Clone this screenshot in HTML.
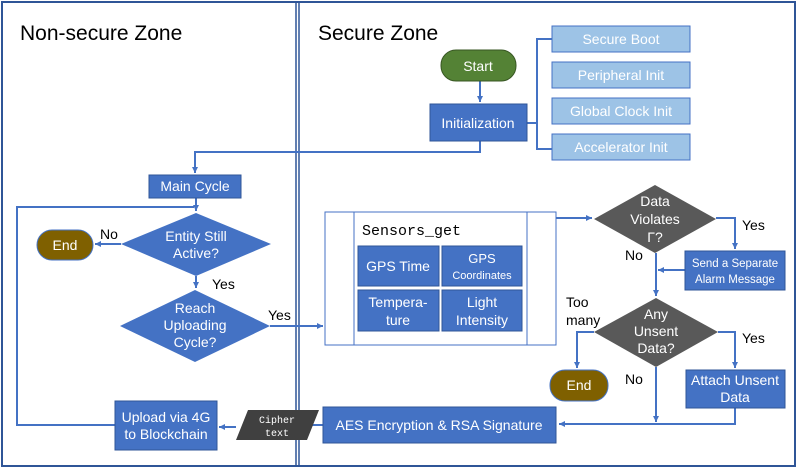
<!DOCTYPE html>
<html><head><meta charset="utf-8"><style>
body{margin:0;background:#fff}
svg{display:block}
text{font-family:"Liberation Sans",sans-serif}
.w{fill:#fff;font-size:14px;text-anchor:middle}
.k{fill:#000;font-size:14px}
</style></head><body>
<svg width="797" height="468" viewBox="0 0 797 468" xmlns="http://www.w3.org/2000/svg">
<defs><marker id="a" markerWidth="8" markerHeight="8" refX="6" refY="3" orient="auto" markerUnits="userSpaceOnUse"><path d="M0,0 L6,3 L0,6 z" fill="#4472c4"/></marker></defs>
<rect x="2" y="2" width="793" height="464" fill="none" stroke="#2f5597" stroke-width="2"/>
<line x1="296" y1="2" x2="296" y2="466" stroke="#2f5597" stroke-width="1.5"/>
<line x1="299" y1="2" x2="299" y2="466" stroke="#2f5597" stroke-width="1.5"/>
<text x="20" y="40" font-size="21" fill="#000">Non-secure Zone</text>
<text x="318" y="40" font-size="21" fill="#000">Secure Zone</text>
<g stroke="#4472c4" stroke-width="2" fill="none">
<path d="M480,81 V102" marker-end="url(#a)"/>
<path d="M527,123 H537 M552,39 H537 V149 H552"/>
<path d="M480,141 V152 H195 V173" marker-end="url(#a)"/>
<path d="M196,198 V211" marker-end="url(#a)"/>
<path d="M115,425 H17 V207 H194"/>
<path d="M121,244 H95" marker-end="url(#a)"/>
<path d="M196,276 V288" marker-end="url(#a)"/>
<path d="M270,326 H323" marker-end="url(#a)"/>
<path d="M556,218 H592" marker-end="url(#a)"/>
<path d="M716,218 H735 V249" marker-end="url(#a)"/>
<path d="M685,270 H658" marker-end="url(#a)"/>
<path d="M656,253 V296" marker-end="url(#a)"/>
<path d="M594,332 H577 V368" marker-end="url(#a)"/>
<path d="M718,332 H735 V368" marker-end="url(#a)"/>
<path d="M656,367 V422" marker-end="url(#a)"/>
<path d="M735,408 V424 H559" marker-end="url(#a)"/>
<path d="M323,425 H300"/>
<path d="M236,427 H219" marker-end="url(#a)"/>
</g>
<rect x="441" y="50" width="75" height="31" rx="15" fill="#548235" stroke="#385723"/>
<text class="w" x="478" y="71">Start</text>
<rect x="430" y="104" width="97" height="37" fill="#4472c4" stroke="#2f5597"/>
<text class="w" x="478" y="128">Initialization</text>
<g fill="#9dc3e6" stroke="#4472c4">
<rect x="552" y="26" width="138" height="26"/><rect x="552" y="62" width="138" height="26"/>
<rect x="552" y="98" width="138" height="26"/><rect x="552" y="134" width="138" height="26"/>
</g>
<text class="w" x="621" y="44">Secure Boot</text>
<text class="w" x="621" y="80">Peripheral Init</text>
<text class="w" x="621" y="116">Global Clock Init</text>
<text class="w" x="621" y="152">Accelerator Init</text>
<rect x="149" y="175" width="92" height="23" fill="#4472c4" stroke="#2f5597"/>
<text class="w" x="195" y="191">Main Cycle</text>
<polygon points="121,244 196,213 271,244 196,276" fill="#4472c4"/>
<text class="w" x="196" y="241">Entity Still</text><text class="w" x="196" y="258">Active?</text>
<rect x="37" y="230" width="56" height="30" rx="15" fill="#7f6000" stroke="#4472c4"/>
<text class="w" x="65" y="250">End</text>
<text class="k" x="100" y="239">No</text>
<text class="k" x="212" y="289">Yes</text>
<polygon points="120,326 195,290 270,326 195,362" fill="#4472c4"/>
<text class="w" x="195" y="313">Reach</text><text class="w" x="195" y="330">Uploading</text><text class="w" x="195" y="347">Cycle?</text>
<text class="k" x="268" y="320">Yes</text>
<rect x="325" y="212" width="231" height="133" fill="#fff" stroke="#4472c4"/>
<line x1="354" y1="212" x2="354" y2="345" stroke="#4472c4"/><line x1="527" y1="212" x2="527" y2="345" stroke="#4472c4"/>
<text x="362" y="235" style="font-family:'Liberation Mono',monospace;font-size:15px" fill="#000">Sensors_get</text>
<g fill="#4472c4" stroke="#2f5597"><rect x="358" y="246" width="81" height="40"/><rect x="442" y="246" width="80" height="40"/><rect x="358" y="290" width="81" height="41"/><rect x="442" y="290" width="80" height="41"/></g>
<text class="w" x="398" y="271">GPS Time</text>
<text class="w" x="482" y="263" style="font-size:13px">GPS</text><text class="w" x="482" y="279" style="font-size:11px">Coordinates</text>
<text class="w" x="398" y="307">Tempera-</text><text class="w" x="398" y="325">ture</text>
<text class="w" x="482" y="307">Light</text><text class="w" x="482" y="325">Intensity</text>
<polygon points="594,219 655,185 716,219 655,253" fill="#595959"/>
<text class="w" x="655" y="206">Data</text><text class="w" x="655" y="224">Violates</text><text class="w" x="655" y="242">Γ?</text>
<text class="k" x="742" y="230">Yes</text>
<text class="k" x="625" y="260">No</text>
<rect x="685" y="251" width="100" height="39" fill="#4472c4" stroke="#2f5597"/>
<text class="w" x="735" y="267" style="font-size:11.5px">Send a Separate</text><text class="w" x="735" y="283" style="font-size:11.5px">Alarm Message</text>
<polygon points="594,332 656,298 718,332 656,367" fill="#595959"/>
<text class="w" x="656" y="319">Any</text><text class="w" x="656" y="336">Unsent</text><text class="w" x="656" y="353">Data?</text>
<text class="k" x="566" y="307">Too</text><text class="k" x="566" y="325">many</text>
<text class="k" x="742" y="343">Yes</text>
<text class="k" x="625" y="384">No</text>
<rect x="550" y="370" width="58" height="31" rx="15" fill="#7f6000" stroke="#4472c4"/>
<text class="w" x="579" y="390">End</text>
<rect x="686" y="370" width="99" height="38" fill="#4472c4" stroke="#2f5597"/>
<text class="w" x="735" y="385">Attach Unsent</text><text class="w" x="735" y="402">Data</text>
<rect x="323" y="407" width="233" height="36" fill="#4472c4" stroke="#2f5597"/>
<text class="w" x="439" y="430">AES Encryption &amp; RSA Signature</text>
<polygon points="248,410 319,410 307,440 236,440" fill="#404040"/>
<text x="277" y="423" style="font-family:'Liberation Mono',monospace;font-size:10px" fill="#fff" text-anchor="middle">Cipher</text>
<text x="277" y="436" style="font-family:'Liberation Mono',monospace;font-size:10px" fill="#fff" text-anchor="middle">text</text>
<rect x="115" y="401" width="102" height="49" fill="#4472c4" stroke="#2f5597"/>
<text class="w" x="166" y="422">Upload via 4G</text><text class="w" x="166" y="439">to Blockchain</text>
</svg>
</body></html>
